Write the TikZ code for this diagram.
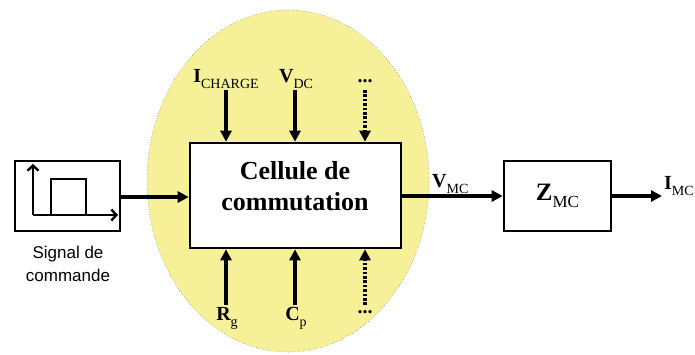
\documentclass[tikz,border=0pt]{standalone}
\usepackage{fontspec}
\setmainfont{Liberation Serif}
\newfontfamily\sansfam{Liberation Sans}
\usetikzlibrary{arrows.meta}
\definecolor{cellyellow}{RGB}{246,241,152}
\newcommand\lsub[2][14]{\raisebox{-0.3em}{\fontsize{#1}{#1}\selectfont\mdseries #2}}
\begin{document}
\begin{tikzpicture}[x=1pt,y=-1pt,
  blk/.style={draw=black,line width=2.6pt,fill=white,inner sep=0pt},
  conn/.style={line width=3.4pt,-{Triangle[length=11pt,width=11pt]}},
  dotconn/.style={line width=3.4pt,dash pattern=on 2.6pt off 1.8pt,-{Triangle[length=11pt,width=11pt]}},
  axis/.style={line width=2.4pt,-{Straight Barb[length=5pt,width=11pt,line width=2.4pt]}},
  lab/.style={font=\fontsize{20}{20}\selectfont\bfseries,inner sep=0pt},
  dots/.style={font=\fontsize{20}{20}\selectfont\bfseries,inner sep=0pt}]
\useasboundingbox (0,0) rectangle (695,354);
% ellipse
\fill[cellyellow] (288,181) ellipse [x radius=141, y radius=171];
\draw[gray!80!black,line width=0.5pt,dotted] (288,181) ellipse [x radius=141, y radius=171];
% boxes
\node[blk,minimum width=211pt,minimum height=105pt] (cell) at (295.5,195.5) {};
\node[align=center,inner sep=0pt,font=\fontsize{26}{31}\selectfont\bfseries] (celltxt) at (295,186)
  {Cellule de\\commutation};
\node[blk,minimum width=105pt,minimum height=70pt] (sig) at (67.5,196) {};
\node[blk,minimum width=107pt,minimum height=70pt,font=\fontsize{25}{25}\selectfont\bfseries] (z) at (557.5,196)
  {Z\lsub[17]{MC}};
% signal inside
\coordinate (o) at (33,215);
\coordinate (ytop) at (33,164);
\coordinate (xend) at (118,215);
\draw[axis] (o) -- (ytop);
\draw[axis] (o) -- (xend);
\draw[line width=2.4pt] (51,215) -- (51,179) -- (86,179) -- (86,215);
\node[font=\sansfam\fontsize{17}{23}\selectfont,align=center,inner sep=0pt] (sigtxt) at (68,264)
  {Signal de\\commande};
% top labels
\node[lab,anchor=base] (ich) at (226,82) {I\lsub{CHARGE}};
\node[lab,anchor=base] (vdc) at (296,82) {V\lsub{DC}};
\node[dots,anchor=base] (dt) at (365,82) {...};
\coordinate (a1) at (226,90);
\coordinate (a2) at (295,90);
\coordinate (a3) at (365,90);
\draw[conn] (a1) -- (a1 |- cell.north);
\draw[conn] (a2) -- (a2 |- cell.north);
\draw[dotconn] (a3) -- (a3 |- cell.north);
% bottom labels
\node[lab,anchor=base] (rg) at (227,320) {R\lsub{g}};
\node[lab,anchor=base] (cp) at (296,320) {C\lsub{p}};
\node[dots,anchor=base] (db) at (365,313) {...};
\coordinate (b1) at (226,305);
\coordinate (b2) at (295,305);
\coordinate (b3) at (365,305);
\draw[conn] (b1) -- (b1 |- cell.south);
\draw[conn] (b2) -- (b2 |- cell.south);
\draw[dotconn] (b3) -- (b3 |- cell.south);
% horizontal connectors
\draw[conn] (sig.east |- 0,197) -- (cell.west |- 0,197);
\draw[conn] (cell.east |- 0,196) -- (z.west |- 0,196);
\node[lab,anchor=base west] (vmc) at (432,187) {V\lsub{MC}};
\coordinate (iout) at (662,196);
\draw[conn] (z.east |- 0,196) -- (iout);
\node[lab,anchor=base west] (imc) at (664,189) {I\lsub{MC}};
\end{tikzpicture}
\end{document}
